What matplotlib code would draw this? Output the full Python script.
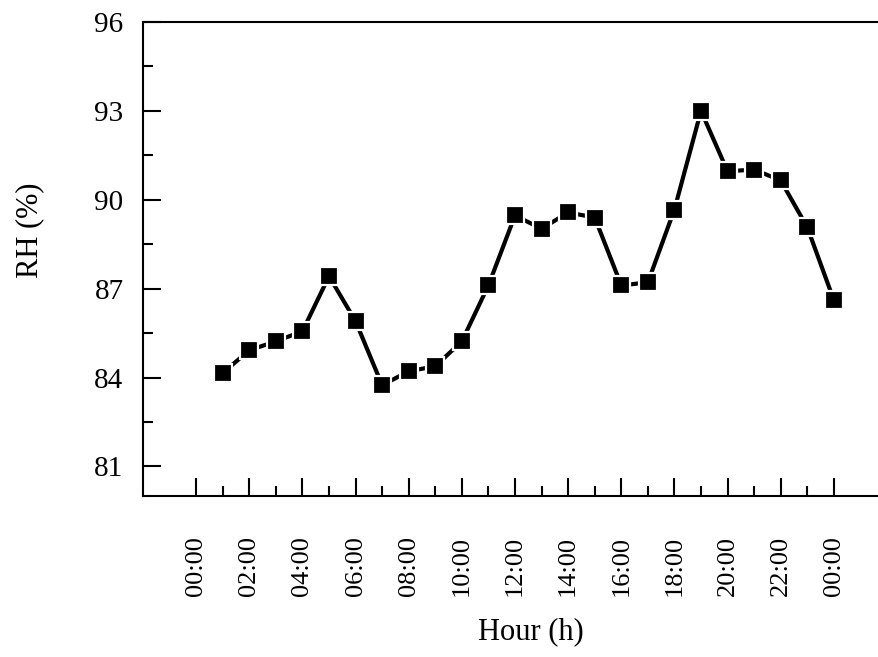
import numpy as np
import matplotlib
matplotlib.use('Agg')
import matplotlib.pyplot as plt
from matplotlib.ticker import MultipleLocator, FixedLocator

plt.rcParams['font.family'] = 'Liberation Serif'

# hourly relative humidity
hours = [1, 2, 3, 4, 5, 6, 7, 8, 9, 10, 11, 12,
         13, 14, 15, 16, 17, 18, 19, 20, 21, 22, 23, 24]
rh = [84.15, 84.92, 85.22, 85.56, 87.42, 85.90, 83.74, 84.21, 84.38, 85.22, 87.11, 89.47,
      89.02, 89.57, 89.40, 87.11, 87.21, 89.67, 93.00, 90.96, 91.02, 90.65, 89.07, 86.61]

xticks = list(range(0, 25, 2))
xminor = list(range(1, 24, 2))
xlabels = ['00:00', '02:00', '04:00', '06:00', '08:00', '10:00', '12:00',
           '14:00', '16:00', '18:00', '20:00', '22:00', '00:00']
yticks = [81, 84, 87, 90, 93, 96]

fig = plt.figure(figsize=(8.79, 6.57), dpi=100)
ax = fig.add_axes([143/879, 161/657, 744/879, 474/657])

ax.plot(hours, rh, color='black', lw=3, marker='s', ms=13,
        mfc='black', mec='white', mew=1.6)

ax.set_xlim(-2, 26)
ax.set_ylim(80, 96)
ax.set_xticks(xticks)
ax.set_xticklabels(xlabels, rotation=90, fontsize=19)
ax.xaxis.set_minor_locator(FixedLocator(xminor))
ax.set_yticks(yticks)
ax.set_yticklabels([str(v) for v in yticks], fontsize=21)
ax.yaxis.set_minor_locator(MultipleLocator(1.5))

ax.tick_params(which='both', direction='in', width=1.5)
ax.tick_params(which='major', length=13)
ax.tick_params(which='minor', length=7)
ax.tick_params(axis='x', which='major', pad=29)
ax.tick_params(axis='y', which='major', pad=14)
ax.tick_params(right=False, top=False, which='both')
for s in ax.spines.values():
    s.set_linewidth(1.5)

fig.text(531/879, 1 - 632/657, 'Hour (h)', fontsize=22, ha='center', va='center')
fig.text(30/879, 1 - 230/657, 'RH (%)', fontsize=22, ha='center', va='center', rotation=90)

fig.savefig('out.png', dpi=100)
